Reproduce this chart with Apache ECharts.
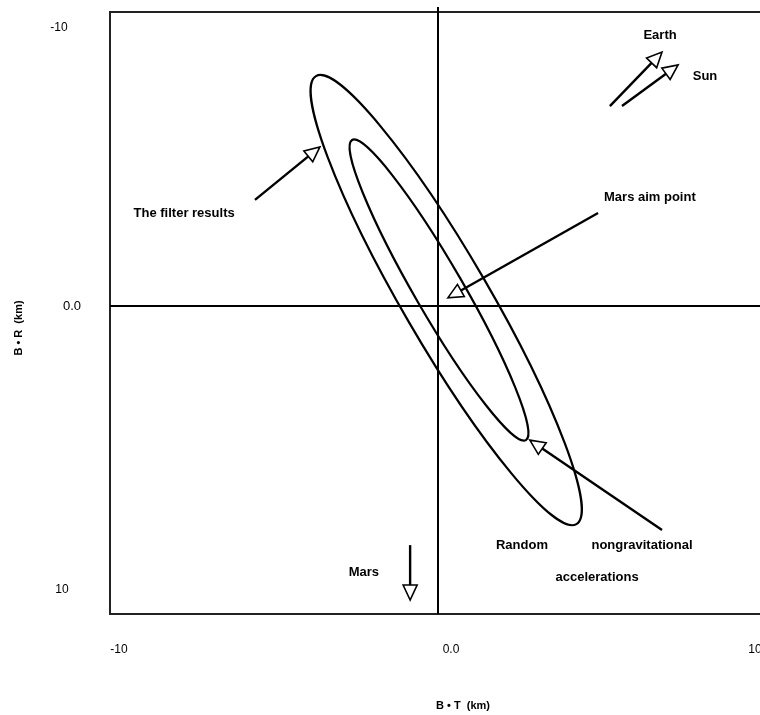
<!DOCTYPE html>
<html>
<head>
<meta charset="utf-8">
<script src="https://cdn.jsdelivr.net/npm/echarts@6/dist/echarts.min.js"></script>
<style>html,body{margin:0;padding:0;background:#fff}#c{width:760px;height:715px}</style>
</head>
<body>
<div id="c"></div>
<script>
// Tick values and labels
const xTickValues = [-10, 0, 10];
const xTickLabels = ['-10', '0.0', '10'];
const yTickValues = [-10, 0, 10];
const yTickLabels = ['-10', '0.0', '10'];
const xAxisTitle = 'B \u2022 T  (km)';
const yAxisTitle = 'B \u2022 R  (km)';

// Error ellipses: major-axis end points (x1, y1, x2, y2) and semi-minor axis (x units)
const ellipseNames = ['outer', 'inner'];
const ellipseParams = [
  [-3.72, -8.21, 4.22, 7.79, 1.32],
  [-2.62, -5.93, 2.68, 4.79, 0.74]
];

// Annotation arrows: from (x1, y1) to head at (x2, y2)
const arrowNames = ['filter', 'aim', 'random', 'mars', 'earth', 'sun'];
const arrowParams = [
  [-5.58, -3.79, -3.60, -5.68],
  [4.88, -3.32, 0.30, -0.29],
  [6.83, 8.00, 2.80, 4.79],
  [-0.85, 8.54, -0.85, 10.50],
  [5.24, -7.14, 6.83, -9.07],
  [5.61, -7.14, 7.32, -8.61]
];

// Annotation texts and anchor positions
const noteTexts = ['Earth', 'Sun', 'The filter results', 'Mars aim point', 'Random', 'nongravitational', 'accelerations', 'Mars'];
const noteX = [6.77, 8.14, -7.74, 6.46, 2.56, 6.22, 4.85, -2.26];
const noteY = [-9.65, -8.21, -3.32, -3.89, 8.54, 8.54, 9.68, 9.50];

const chart = echarts.init(document.getElementById('c'));
const FONT = 'Liberation Sans';

function ellipseItem(params, api) {
  const p1 = api.coord([api.value(0), api.value(1)]);
  const p2 = api.coord([api.value(2), api.value(3)]);
  const dx = p2[0] - p1[0], dy = p2[1] - p1[1];
  const a = Math.sqrt(dx * dx + dy * dy) / 2;
  const b = api.size([api.value(4), 0])[0];
  return {
    type: 'ellipse',
    x: (p1[0] + p2[0]) / 2,
    y: (p1[1] + p2[1]) / 2,
    rotation: -Math.atan2(dy, dx),
    shape: { cx: 0, cy: 0, rx: a, ry: b },
    style: { fill: 'none', stroke: '#000', lineWidth: 2.2 }
  };
}

function arrowItem(params, api) {
  const p1 = api.coord([api.value(0), api.value(1)]);
  const p2 = api.coord([api.value(2), api.value(3)]);
  const dx = p2[0] - p1[0], dy = p2[1] - p1[1];
  const L = Math.sqrt(dx * dx + dy * dy);
  const ux = dx / L, uy = dy / L;
  const hl = 15, hw = 7;
  const bx = p2[0] - ux * hl, by = p2[1] - uy * hl;
  return {
    type: 'group',
    children: [
      { type: 'line', shape: { x1: p1[0], y1: p1[1], x2: bx, y2: by }, style: { stroke: '#000', lineWidth: 2.4 } },
      { type: 'polygon', shape: { points: [[p2[0], p2[1]], [bx - uy * hw, by + ux * hw], [bx + uy * hw, by - ux * hw]] },
        style: { fill: '#fff', stroke: '#000', lineWidth: 1.6 } }
    ]
  };
}

function noteItem(params, api) {
  const p = api.coord([api.value(0), api.value(1)]);
  return {
    type: 'text',
    x: p[0], y: p[1],
    style: { text: noteTexts[params.dataIndex], fill: '#000', font: 'bold 13px ' + FONT, align: 'center', verticalAlign: 'middle' }
  };
}

const lblStyle = { color: '#000', fontFamily: FONT, fontSize: 12 };
const xRichKeys = ['a', 'b', 'c'];
const yRichKeys = ['a', 'b', 'c'];

chart.setOption({
  animation: false,
  grid: { left: 110, top: 12, width: 656, height: 602, show: true, borderColor: '#222', borderWidth: 2, backgroundColor: '#fff', containLabel: false, outerBoundsMode: 'none' },
  xAxis: [{
    type: 'value', min: -10, max: 10, position: 'bottom',
    axisLine: { show: false },
    splitLine: { show: false },
    axisTick: { show: true, customValues: [0], length: 5, lineStyle: { color: '#000', width: 2 } },
    axisLabel: {
      customValues: xTickValues,
      formatter: v => { const i = xTickValues.indexOf(v); return '{' + xRichKeys[i] + '|' + xTickLabels[i] + '}'; },
      color: '#000', fontFamily: FONT, fontSize: 12, margin: 30,
      rich: {
        a: Object.assign({ padding: [0, 0, 0, 18] }, lblStyle),
        b: Object.assign({ padding: [0, 0, 0, 26] }, lblStyle),
        c: Object.assign({ padding: [0, 22, 0, 0] }, lblStyle)
      }
    },
    name: xAxisTitle, nameLocation: 'middle', nameGap: 86,
    nameTextStyle: { color: '#000', fontFamily: FONT, fontSize: 11, fontWeight: 'bold', padding: [0, 0, 0, 50] }
  }, {
    type: 'value', min: -10, max: 10, position: 'top',
    axisLine: { show: false }, splitLine: { show: false },
    axisTick: { show: true, customValues: [0], length: 5, lineStyle: { color: '#000', width: 2 } },
    axisLabel: { show: false }
  }],
  yAxis: {
    type: 'value', min: -10.5, max: 11, inverse: true,
    axisLine: { show: false }, splitLine: { show: false },
    axisTick: { show: true, customValues: [0], length: 5, lineStyle: { color: '#000', width: 2 } },
    axisLabel: {
      customValues: yTickValues,
      formatter: v => { const i = yTickValues.indexOf(v); return '{' + yRichKeys[i] + '|' + yTickLabels[i] + '}'; },
      color: '#000', fontFamily: FONT, fontSize: 12, margin: 45, align: 'center',
      rich: {
        a: Object.assign({ padding: [4, 12, 0, 0] }, lblStyle),
        b: Object.assign({ padding: [0, 0, 0, 14] }, lblStyle, { fontSize: 13 }),
        c: Object.assign({ padding: [8, 6, 0, 0] }, lblStyle)
      }
    },
    name: yAxisTitle, nameLocation: 'middle', nameGap: 86, nameRotate: 90,
    nameTextStyle: { color: '#000', fontFamily: FONT, fontSize: 11, fontWeight: 'bold', letterSpacing: 5, padding: [0, 30, 0, 0] }
  },
  series: [
    {
      type: 'custom', name: 'ellipses', renderItem: ellipseItem,
      data: ellipseParams, encode: { x: [0, 2], y: [1, 3] }, clip: false, silent: true,
      markLine: {
        silent: true, symbol: 'none', label: { show: false },
        lineStyle: { color: '#000', width: 2, type: 'solid' },
        data: [{ xAxis: 0 }, { yAxis: 0 }]
      }
    },
    { type: 'custom', name: 'arrows', renderItem: arrowItem, data: arrowParams, encode: { x: [0, 2], y: [1, 3] }, clip: false, silent: true },
    { type: 'custom', name: 'notes', renderItem: noteItem, data: noteX.map((x, i) => [x, noteY[i]]), encode: { x: 0, y: 1 }, clip: false, silent: true }
  ]
});
</script>
</body>
</html>
